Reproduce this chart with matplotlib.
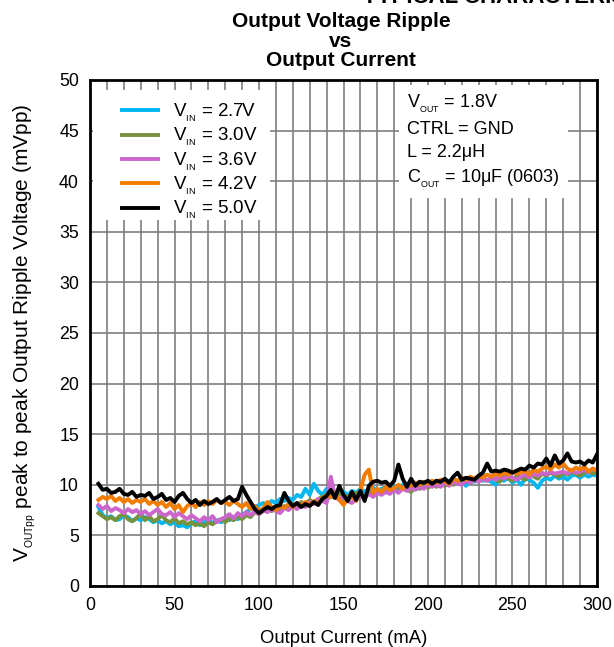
import numpy as np
import matplotlib
matplotlib.use("Agg")
import matplotlib.pyplot as plt
from matplotlib.patches import Rectangle

plt.rcParams['font.family'] = ['Liberation Sans', 'DejaVu Sans']
plt.rcParams['mathtext.fontset'] = 'custom'
plt.rcParams['mathtext.rm'] = 'Liberation Sans'
plt.rcParams['mathtext.it'] = 'Liberation Sans'

# output current (mA)
current = np.arange(5, 300.1, 2.5)

# ripple (mVpp)
vin_27 = [7.8, 7.0, 6.7, 6.9, 6.5, 6.6, 7.0, 6.8, 6.4, 6.7,
          6.5, 6.8, 6.6, 6.3, 6.5, 6.2, 6.4, 6.1, 6.3, 5.9,
          6.0, 5.8, 6.2, 6.4, 6.0, 6.3, 6.6, 6.2, 6.5, 6.3,
          6.7, 6.5, 6.8, 6.6, 7.0, 7.3, 7.6, 7.8, 8.0, 8.2,
          8.0, 8.4, 8.2, 8.6, 8.4, 8.7, 8.5, 9.0, 8.8, 9.6,
          9.0, 10.1, 9.4, 9.0, 9.6, 8.9, 9.2, 9.5, 9.3, 9.0,
          9.4, 9.2, 9.6, 9.3, 9.5, 9.7, 9.4, 9.6, 9.8, 9.5,
          9.9, 9.7, 10.0, 9.8, 10.1, 9.9, 10.2, 10.0, 9.8, 10.3,
          10.1, 10.2, 10.0, 10.4, 10.3, 10.1, 10.4, 9.9, 10.5, 10.3,
          10.6, 10.4, 10.5, 10.3, 10.0, 10.6, 10.4, 10.7, 10.2, 10.5,
          10.0, 10.6, 10.5, 10.2, 9.7, 10.4, 10.7, 10.5, 10.9, 10.6,
          10.8, 10.5, 10.9, 11.0, 10.7, 11.0, 10.8, 11.0,
          10.9]
vin_30 = [7.2, 6.9, 6.6, 6.8, 6.5, 6.9, 7.1, 6.6, 6.4, 6.7,
          7.2, 6.5, 6.9, 6.4, 6.6, 7.0, 6.5, 6.3, 6.7, 6.2,
          6.4, 6.1, 6.3, 6.0, 6.2, 5.9, 6.3, 6.1, 6.4, 6.6,
          6.3, 6.7, 6.5, 6.9, 6.6, 7.0, 6.8, 7.3, 7.1, 7.4,
          7.6, 7.4, 7.8, 7.5, 7.9, 7.7, 8.0, 7.8, 8.3, 8.1,
          8.5, 8.2, 8.6, 8.8, 8.5, 8.9, 8.7, 9.2, 8.6, 8.9,
          8.7, 9.2, 9.0, 8.8, 9.3, 9.1, 9.4, 9.2, 9.5, 9.3,
          9.6, 9.4, 9.7, 9.5, 9.3, 9.8, 9.6, 9.9, 9.7, 10.0,
          9.8, 10.1, 9.9, 10.2, 10.0, 10.3, 10.1, 10.4, 10.2, 10.5,
          10.3, 10.6, 10.4, 10.7, 10.5, 10.3, 10.8, 10.6, 10.4, 10.9,
          10.7, 10.5, 11.0, 10.8, 10.6, 11.1, 10.9, 11.2, 11.0, 10.8,
          11.2, 11.0, 11.3, 11.1, 10.9, 11.2, 11.4, 11.1,
          11.3]
vin_36 = [8.0, 7.6, 7.9, 7.4, 7.7, 7.5, 7.2, 7.6, 7.3, 7.5,
          7.1, 7.4, 7.0, 7.3, 7.6, 7.1, 7.0, 7.3, 6.8, 7.2,
          6.9, 6.6, 7.0, 6.7, 6.4, 6.8, 6.5, 6.9, 6.3, 6.6,
          6.8, 7.1, 6.7, 7.2, 6.9, 7.3, 7.0, 7.4, 7.1, 7.5,
          7.3, 7.6, 7.4, 7.2, 7.7, 7.5, 7.9, 7.6, 8.0, 7.8,
          8.3, 8.1, 8.6, 8.4, 8.2, 10.8, 8.8, 8.5, 8.9, 8.4,
          8.2, 8.6, 8.9, 8.7, 9.1, 8.8, 9.2, 9.0, 9.3, 9.1,
          9.5, 9.2, 9.6, 9.4, 9.7, 9.5, 9.8, 9.6, 10.0, 9.8,
          10.0, 9.8, 10.2, 9.9, 10.3, 10.1, 10.0, 10.4, 10.2, 10.5,
          10.3, 10.6, 10.4, 10.7, 10.5, 10.8, 10.6, 10.9, 10.7, 10.5,
          10.8, 11.0, 10.7, 11.1, 10.9, 11.2, 11.0, 11.3, 11.1, 11.2,
          11.3, 11.1, 11.4, 11.2, 11.3, 11.5, 11.2, 11.6,
          11.4]
vin_42 = [8.5, 8.8, 8.6, 8.9, 8.4, 8.7, 8.3, 8.6, 8.2, 8.5,
          8.3, 8.6, 8.1, 8.4, 8.0, 8.3, 7.8, 8.2, 7.6, 8.0,
          7.3, 7.9, 8.2, 7.8, 8.3, 8.0, 8.4, 8.1, 8.5, 8.2,
          8.3, 8.0, 8.4, 8.1, 7.8, 8.2, 7.6, 7.9, 7.4, 7.7,
          8.3, 7.8, 7.5, 7.9, 7.7, 8.1, 7.8, 8.2, 7.9, 8.3,
          8.0, 8.4, 8.1, 8.7, 9.0, 8.8, 9.2, 8.5, 8.0, 8.6,
          8.9, 8.4, 9.4, 11.0, 11.5, 9.2, 9.6, 9.3, 9.8, 9.5,
          9.7, 10.0, 9.6, 10.1, 9.9, 10.2, 10.0, 10.3, 10.1, 10.4,
          10.2, 10.5, 10.3, 10.1, 10.6, 10.4, 10.7, 10.5, 10.8, 10.6,
          10.9, 10.7, 11.0, 10.8, 11.1, 10.9, 11.2, 11.0, 11.3, 11.1,
          11.2, 11.4, 11.0, 11.5, 11.3, 11.6, 11.8, 11.5, 12.0, 11.7,
          12.1, 11.6, 11.4, 11.7, 11.5, 11.8, 11.3, 11.6,
          11.4]
vin_50 = [10.1, 9.5, 9.6, 9.2, 9.3, 9.6, 9.1, 9.0, 9.3, 8.8,
          9.0, 8.9, 9.2, 8.6, 8.8, 9.1, 8.5, 8.7, 8.3, 8.9,
          9.2, 8.6, 8.2, 8.5, 8.0, 8.4, 8.1, 8.3, 8.6, 8.2,
          8.5, 8.8, 8.4, 8.6, 9.8, 9.0, 8.3, 7.6, 7.2, 7.5,
          7.8, 7.6, 7.9, 8.0, 9.2, 8.4, 7.9, 8.2, 7.8, 8.1,
          7.9, 8.3, 8.0, 8.6, 8.9, 9.5, 8.7, 9.9, 9.0, 8.4,
          9.3, 8.5, 9.4, 8.4, 9.9, 10.3, 10.4, 10.2, 10.3, 9.9,
          10.4, 12.0, 10.6, 9.8, 10.6, 9.9, 10.3, 10.2, 10.4, 10.1,
          10.4, 10.3, 10.6, 10.2, 10.8, 11.2, 10.5, 10.7, 10.6, 10.5,
          10.9, 11.2, 12.1, 11.3, 11.4, 11.3, 11.5, 11.4, 11.2, 11.4,
          11.6, 11.5, 11.9, 11.7, 12.1, 12.0, 12.6, 11.9, 12.9, 12.1,
          12.4, 13.1, 12.3, 12.2, 12.3, 12.0, 12.4, 12.2,
          13.0]

vin_labels = ['2.7V', '3.0V', '3.6V', '4.2V', '5.0V']
colors = ['#00B7F1', '#76923C', '#CC66CC', '#F27C00', '#000000']
series = [vin_27, vin_30, vin_36, vin_42, vin_50]

fig = plt.figure(figsize=(6.14, 6.47), dpi=100)
ax = fig.add_axes([0.1466, 0.0943, 0.8257, 0.7821])

for vals, lab, col in zip(series, vin_labels, colors):
    ax.plot(current, vals, color=col, lw=2.8,
            label=r'V$_{_{\mathregular{IN}}}$ = ' + lab)

ax.set_xlim(0, 300)
ax.set_ylim(0, 50)
ax.set_xticks(np.arange(0, 301, 50))
ax.set_xticks(np.arange(0, 301, 10), minor=True)
ax.set_yticks(np.arange(0, 51, 5))
ax.grid(which='both', color='#7f7f7f', lw=1.2)
ax.set_axisbelow(True)
ax.tick_params(which='both', length=0, labelsize=12.75, pad=8)
for s in ax.spines.values():
    s.set_linewidth(2)

ax.set_xlabel('Output Current (mA)', fontsize=13.3, labelpad=11.5)
ax.set_ylabel(r'V$_{_{\mathregular{OUTpp}}}$ peak to peak Output Ripple Voltage (mVpp)',
              fontsize=15, labelpad=15)

# white area behind the legend
ax.add_patch(Rectangle((0.006, 0.723), 0.349, 0.257, transform=ax.transAxes,
                       facecolor='white', edgecolor='none', zorder=1.5))
leg = ax.legend(loc='upper left', bbox_to_anchor=(0.063, 0.9565), borderaxespad=0,
                fontsize=13.5, frameon=False, handlelength=1.9, handletextpad=0.8,
                labelspacing=0.12, borderpad=0)

ax.text(0.625, 0.974,
        'V$_{_{\\mathregular{OUT}}}$ = 1.8V\nCTRL = GND\nL = 2.2\u03bcH\nC$_{_{\\mathregular{OUT}}}$ = 10\u03bcF (0603)',
        transform=ax.transAxes, fontsize=13, va='top', ha='left', linespacing=1.45,
        bbox=dict(facecolor='white', edgecolor='none', pad=6))

fig.text(0.5554, 1 - 12 / 647, 'Output Voltage Ripple\nvs\nOutput Current', ha='center',
         va='top', fontsize=15, fontweight='bold', linespacing=1.05)
fig.text(0.591, 1 - 3 / 647, 'TYPICAL CHARACTERISTICS', ha='left', va='baseline',
         fontsize=16, fontweight='bold')

fig.savefig('out.png', dpi=100)
